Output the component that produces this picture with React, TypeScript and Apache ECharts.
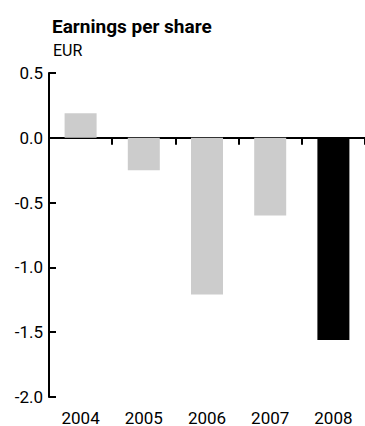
import React, { useEffect, useRef } from "react";
import * as echarts from "echarts";

const years = ["2004", "2005", "2006", "2007", "2008"];
const eps = [0.19, -0.25, -1.21, -0.6, -1.56];
const barColors = ["#cccccc", "#cccccc", "#cccccc", "#cccccc", "#000000"];
const titleText = "Earnings per share";
const unitText = "EUR";

const FONT = "Roboto, sans-serif";

export default function App() {
  const ref = useRef<HTMLDivElement>(null);
  useEffect(() => {
    if (!ref.current) return;
    const chart = echarts.init(ref.current, undefined, { renderer: "svg" });
    chart.setOption({
      animation: false,
      backgroundColor: "#ffffff",
      textStyle: { fontFamily: FONT },
      title: [
        {
          text: titleText,
          left: 47,
          top: 12,
          textStyle: { fontFamily: FONT, fontWeight: "bold", fontSize: 19, color: "#000" },
        },
        {
          text: unitText,
          left: 48,
          top: 37,
          textStyle: { fontFamily: FONT, fontWeight: "normal", fontSize: 16, color: "#000" },
        },
      ],
      grid: { left: 49, top: 73, width: 320, height: 327, containLabel: false },
      xAxis: [
        {
          type: "category",
          data: years,
          position: "bottom",
          axisLine: { onZero: true, lineStyle: { color: "#000", width: 2 } },
          axisTick: { show: true, length: 7, lineStyle: { color: "#000", width: 2 } },
          axisLabel: { show: false },
          splitLine: { show: false },
        },
        {
          type: "category",
          data: years,
          position: "bottom",
          axisLine: { show: false, onZero: false },
          axisTick: { show: false },
          axisLabel: { show: true, margin: 12, fontSize: 17, color: "#000", fontFamily: FONT },
          splitLine: { show: false },
        },
      ],
      yAxis: {
        type: "value",
        min: -2,
        max: 0.5,
        interval: 0.5,
        axisLine: { show: true, lineStyle: { color: "#000", width: 2 } },
        axisTick: { show: true, inside: true, length: 7, lineStyle: { color: "#000", width: 2 } },
        axisLabel: {
          margin: 6,
          fontSize: 17,
          color: "#000",
          fontFamily: FONT,
          formatter: (v: number) => v.toFixed(1),
        },
        splitLine: { show: false },
      },
      series: [
        {
          type: "bar",
          xAxisIndex: 0,
          barWidth: 32,
          data: eps.map((v, i) => ({ value: v, itemStyle: { color: barColors[i] } })),
        },
      ],
    });
    return () => chart.dispose();
  }, []);
  return (
    <div
      ref={ref}
      style={{ position: "fixed", left: 0, top: 0, width: 365, height: 426 }}
    />
  );
}
